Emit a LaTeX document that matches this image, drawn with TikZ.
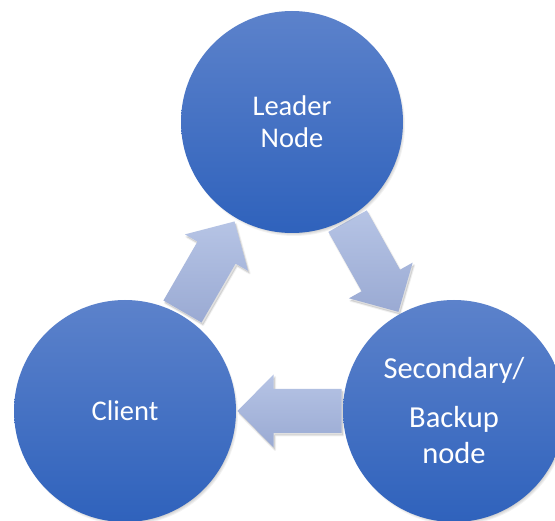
\documentclass[tikz,border=0pt]{standalone}
\usepackage{fontspec}
\setmainfont{Carlito}
\usetikzlibrary{calc}
\definecolor{circtop}{RGB}{92,130,203}
\definecolor{circbot}{RGB}{47,98,188}
\definecolor{arrtop}{RGB}{182,196,229}
\definecolor{arrbot}{RGB}{154,170,211}
\pgfdeclarelayer{bgzero}
\pgfdeclarelayer{arrows}
\pgfdeclarelayer{cshadow}
\pgfsetlayers{bgzero,arrows,cshadow,main}
\newcommand{\arrowpath}[2]{($(#2t)!22pt!90:(#1)$) -- ($(#2n)!22pt!90:(#1)$) -- ($(#2n)!36.5pt!90:(#1)$) -- (#2p) -- ($(#2n)!36.5pt!-90:(#1)$) -- ($(#2n)!22pt!-90:(#1)$) -- ($(#2t)!22pt!-90:(#1)$) -- cycle}
\newcommand{\blockarrow}[3]{%
  \coordinate (#3m) at ($(#1)!0.5!(#2)$);
  \coordinate (#3t) at ($(#3m)!-52pt!(#2)$);
  \coordinate (#3n) at ($(#3m)!16pt!(#2)$);
  \coordinate (#3p) at ($(#3m)!52pt!(#2)$);
  \path[arrowshadow, transform canvas={shift={(1.5pt,-2.5pt)}}] \arrowpath{#2}{#3};
  \path[blockarrow] \arrowpath{#2}{#3};
}
\begin{document}
\begin{tikzpicture}[x=1pt,y=-1pt,
  circ/.style={circle, minimum size=222pt, inner sep=0pt, top color=circtop, bottom color=circbot,
    text=white, align=center, font=\fontsize{28.5}{32}\selectfont},
  blockarrow/.style={top color=arrtop, bottom color=arrbot},
  arrowshadow/.style={fill=black, fill opacity=0.12, draw=black, draw opacity=0.06, line width=2pt, line join=round},
  cshade/.style={fill=black, fill opacity=0.05}]
\useasboundingbox (0,0) rectangle (555,521);
\begin{pgfonlayer}{bgzero}
\fill[white] (0,0) rectangle (555,521);
\end{pgfonlayer}
\node[circ] (leader) at (292,122) {Leader\\Node};
\node[circ] (client) at (125,411) {Client};
\node[circ, font=\fontsize{30.5}{36}\selectfont] (backup) at (454,411) {Secondary/\\[13pt]Backup\\node};
\begin{pgfonlayer}{cshadow}
\foreach \n in {leader,client,backup}{
  \foreach \k in {0,...,5}{
    \path[cshade, transform canvas={shift={(2pt,-3pt)}}] (\n.center) circle[radius=106pt+\k pt];
  }
}
\end{pgfonlayer}
\begin{pgfonlayer}{arrows}
\blockarrow{client}{leader}{aone}
\blockarrow{leader}{backup}{atwo}
\blockarrow{backup}{client}{athree}
\end{pgfonlayer}
\end{tikzpicture}
\end{document}
